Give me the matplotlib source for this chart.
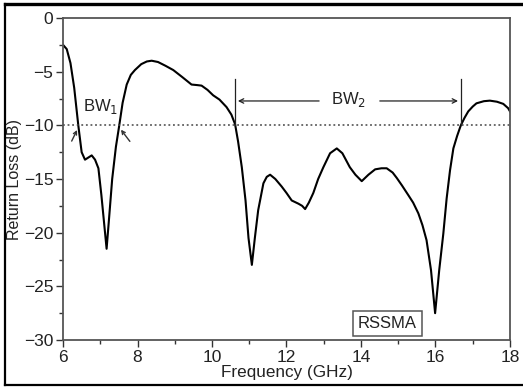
import matplotlib
matplotlib.use('Agg')
import matplotlib.pyplot as plt
from matplotlib.lines import Line2D

plt.rcParams['font.family'] = ['Liberation Sans', 'DejaVu Sans']

# datos (frecuencia en GHz, perdida de retorno en dB)
freq = [6.00, 6.10, 6.20, 6.30, 6.41, 6.50, 6.59, 6.68, 6.77, 6.86, 6.95,
        7.03, 7.10, 7.17, 7.24, 7.32, 7.42, 7.51, 7.60, 7.71, 7.82, 7.93,
        8.10, 8.25, 8.38, 8.55, 8.75, 8.96, 9.20, 9.45, 9.60, 9.72, 9.88,
        10.03, 10.20, 10.39, 10.52, 10.62, 10.70, 10.80, 10.90, 10.98, 11.07,
        11.15, 11.24, 11.38, 11.47, 11.56, 11.70, 11.87, 12.00, 12.14, 12.32,
        12.42, 12.50, 12.60, 12.72, 12.85, 12.99, 13.17, 13.35, 13.50, 13.70,
        13.85, 14.02, 14.20, 14.38, 14.55, 14.69, 14.85, 14.96, 15.10, 15.27,
        15.40, 15.54, 15.65, 15.76, 15.88, 15.99, 16.10, 16.21, 16.30, 16.39,
        16.48, 16.58, 16.68, 16.78, 16.88, 17.00, 17.10, 17.30, 17.46, 17.65,
        17.82, 17.95, 18.00]
rl = [-2.5, -2.9, -4.2, -6.5, -10.0, -12.5, -13.2, -13.0, -12.8, -13.2, -14.0,
      -16.5, -19.0, -21.5, -18.5, -15.0, -12.0, -10.0, -7.9, -6.2, -5.3, -4.85,
      -4.3, -4.05, -3.98, -4.1, -4.45, -4.85, -5.5, -6.2, -6.25, -6.3, -6.7,
      -7.2, -7.6, -8.3, -9.0, -9.9, -11.5, -13.9, -17.0, -20.5, -23.0,
      -20.5, -17.9, -15.4, -14.8, -14.6, -15.0, -15.7, -16.3, -17.0, -17.3,
      -17.5, -17.8, -17.2, -16.3, -15.0, -13.9, -12.6, -12.15, -12.6, -13.9,
      -14.6, -15.2, -14.6, -14.1, -14.0, -14.0, -14.4, -14.9, -15.6, -16.5,
      -17.2, -18.2, -19.3, -20.7, -23.5, -27.5, -23.5, -20.1, -16.8, -14.2,
      -12.15, -11.0, -10.0, -9.3, -8.7, -8.25, -7.95, -7.75, -7.7, -7.8,
      -8.0, -8.4, -8.7]

umbral = -10
bw1 = [6.41, 7.51]
bw2 = [10.62, 16.68]
xticks = [6, 8, 10, 12, 14, 16, 18]
yticks = [0, -5, -10, -15, -20, -25, -30]

fig = plt.figure(figsize=(5.23, 3.87), dpi=100)
ax = fig.add_axes([0.1205, 0.1214, 0.8546, 0.8321])

ax.plot(freq, rl, color='black', lw=1.5)
ax.axhline(umbral, color='#444444', lw=1.1, ls=(0, (1.2, 1.8)))

# BW1
ax.text(7.0, -8.2, r'BW$_1$', fontsize=12, ha='center', va='center', color='#222222')
ax.annotate('', xy=(bw1[0], -10.2), xytext=(6.2, -11.7),
            arrowprops=dict(arrowstyle='->', lw=1.0, color='#333333', mutation_scale=6))
ax.annotate('', xy=(bw1[1], -10.2), xytext=(7.84, -11.7),
            arrowprops=dict(arrowstyle='->', lw=1.0, color='#333333', mutation_scale=6))

# BW2
for f in bw2:
    ax.plot([f, f], [-5.7, umbral], color='#222222', lw=0.9)
ax.annotate('', xy=(bw2[0], -7.73), xytext=(12.95, -7.73),
            arrowprops=dict(arrowstyle='->', lw=0.9, color='#222222', mutation_scale=8))
ax.annotate('', xy=(bw2[1], -7.73), xytext=(14.43, -7.73),
            arrowprops=dict(arrowstyle='->', lw=0.9, color='#222222', mutation_scale=8))
ax.text(13.68, -7.6, r'BW$_2$', fontsize=12, ha='center', va='center', color='#222222')

ax.text(14.7, -28.5, 'RSSMA', fontsize=12, ha='center', va='center', color='#222222',
        bbox=dict(boxstyle='square,pad=0.3', fc='white', ec='#555555', lw=1.1))

ax.set_xlim(6, 18)
ax.set_ylim(-30, 0)
ax.set_xticks(xticks)
ax.set_yticks(yticks)
ax.set_xticks([7, 9, 11, 13, 15, 17], minor=True)
ax.set_yticks([-2.5, -7.5, -12.5, -17.5, -22.5, -27.5], minor=True)
ax.tick_params(which='major', direction='out', length=5, width=1.0, labelsize=12.5,
               colors='#333333', labelcolor='#222222', pad=2)
ax.tick_params(which='minor', direction='out', length=3, width=1.0, colors='#333333')
for s in ax.spines.values():
    s.set_color('#555555')
    s.set_linewidth(1.3)

ax.set_xlabel('Frequency (GHz)', fontsize=12.3, color='#222222', labelpad=0)
ax.set_ylabel('Return Loss (dB)', fontsize=11.5, color='#222222', labelpad=1)

# marco exterior de la imagen
fig.add_artist(Line2D([5 / 523, 5 / 523], [2 / 387, 383 / 387], color='black', lw=1.6,
                      transform=fig.transFigure))
fig.add_artist(Line2D([5 / 523, 1], [2 / 387, 2 / 387], color='black', lw=1.6,
                      transform=fig.transFigure))
fig.add_artist(Line2D([5 / 523, 1], [383 / 387, 383 / 387], color='black', lw=2.4,
                      transform=fig.transFigure))

fig.savefig('out.png', dpi=100)
